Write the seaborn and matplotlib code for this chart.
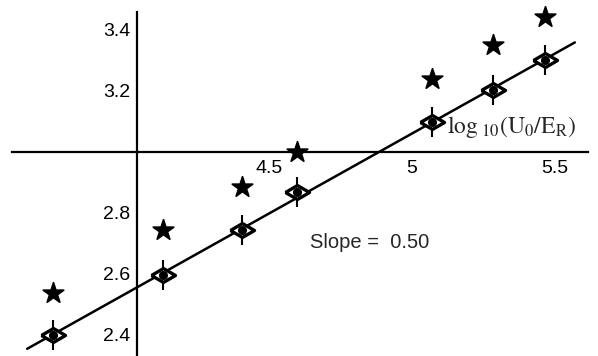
import matplotlib
matplotlib.use('Agg')
import matplotlib.pyplot as plt
import seaborn as sns
import numpy as np
import pandas as pd

# data
log_u = [3.744, 4.129, 4.405, 4.597, 5.069, 5.283, 5.465]
measured = [2.40, 2.597, 2.744, 2.869, 3.098, 3.203, 3.302]
errors = [0.05, 0.05, 0.05, 0.05, 0.05, 0.05, 0.05]
theory = [2.538, 2.744, 2.885, 3.0, 3.239, 3.351, 3.443]
x_ticks = [4.5, 5, 5.5]
y_ticks = [2.4, 2.6, 2.8, 3.2, 3.4]
slope_label = "Slope =  0.50"

sns.set_style("white")
plt.rcParams['font.family'] = ['Liberation Sans', 'DejaVu Sans']
plt.rcParams['mathtext.fontset'] = 'stix'

fig = plt.figure(figsize=(5.98, 3.56), dpi=100)
ax = fig.add_axes([0, 0, 1, 1])
ax.set_xlim(3.559, 5.650)
ax.set_ylim(2.331, 3.498)

# fitted line through the measured points
k, b = np.polyfit(log_u, measured, 1)
fit_x = np.array([3.654, 5.569])
sns.lineplot(x=fit_x, y=k * fit_x + b, color="black", lw=1.8, ax=ax, zorder=2)

ax.errorbar(log_u, measured, yerr=errors, fmt="none", ecolor="black",
            elinewidth=1.5, capsize=0, zorder=3)

diamond = [(-1, 0), (0, 0.58), (1, 0), (0, -0.58), (-1, 0)]
df = pd.DataFrame({"x": log_u, "y": measured})
sns.scatterplot(data=df, x="x", y="y", marker=diamond, s=300, facecolor="white",
                edgecolor="black", linewidth=2.4, ax=ax, zorder=4)
ax.plot(log_u, measured, "o", color="black", ms=5.5, zorder=5)

sns.scatterplot(x=log_u, y=theory, marker="*", s=240, color="black",
                edgecolor="black", ax=ax, zorder=4)

# axes drawn through the origin like the original
for s in ["top", "right"]:
    ax.spines[s].set_visible(False)
ax.spines["left"].set_position(("data", 4.038))
ax.spines["bottom"].set_position(("data", 3.0))
ax.spines["left"].set_bounds(2.331, 3.459)
ax.spines["bottom"].set_bounds(3.601, 5.615)
for s in ["left", "bottom"]:
    ax.spines[s].set_linewidth(1.6)
    ax.spines[s].set_color("black")

ax.set_xticks(x_ticks)
ax.set_xticklabels(["4.5", "5", "5.5"])
ax.set_yticks(y_ticks)
ax.set_yticklabels(["2.4", "2.6", "2.8", "3.2", "3.4"])
ax.tick_params(axis="both", direction="in", length=4, width=1.2, labelsize=14,
               colors="black", pad=5)
ax.tick_params(axis="x", direction="out", pad=2)
ax.set_xlabel("")
ax.set_ylabel("")

ax.text(5.122, 3.062, r"$\mathrm{log}_{\ 10}(\mathrm{U}_0/\mathrm{E}_\mathrm{R})$", fontsize=17)
ax.text(4.643, 2.685, slope_label, fontsize=14.5)

plt.savefig("out.png", dpi=100)
plt.close()
